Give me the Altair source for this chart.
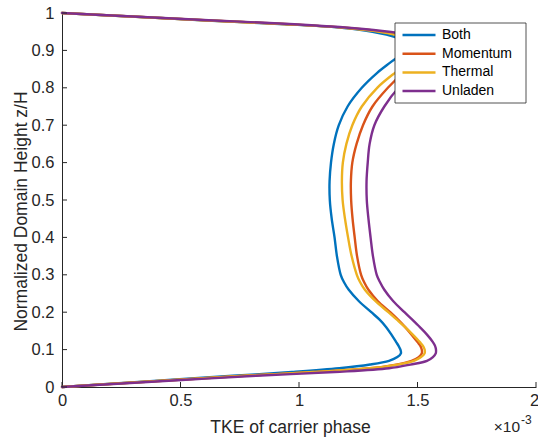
import altair as alt
import pandas as pd

# Normalized height levels (shared by all series)
z_levels = [0, 0.01, 0.02, 0.03, 0.04, 0.05, 0.06, 0.07, 0.08, 0.09, 0.10, 0.11, 0.12,
            0.14, 0.16, 0.18, 0.20, 0.23, 0.26, 0.28, 0.30, 0.35, 0.40, 0.45, 0.50, 0.55,
            0.60, 0.65, 0.70, 0.75, 0.80, 0.84, 0.87, 0.90, 0.92, 0.935, 0.95, 0.96,
            0.97, 0.98, 0.99, 1.0]

# TKE of carrier phase (x 1e-3) at each level
tke_both = [0, 0.24, 0.48, 0.72, 0.97, 1.17, 1.30, 1.38, 1.415, 1.43, 1.428, 1.42, 1.41,
            1.39, 1.368, 1.34, 1.305, 1.252, 1.21, 1.19, 1.176, 1.16, 1.150, 1.138, 1.130, 1.129,
            1.135, 1.147, 1.168, 1.205, 1.265, 1.33, 1.39, 1.45, 1.46, 1.41, 1.31, 1.19,
            0.94, 0.61, 0.31, 0]
tke_momentum = [0, 0.25, 0.51, 0.77, 1.06, 1.30, 1.41, 1.475, 1.505, 1.518, 1.518, 1.512, 1.50,
                1.475, 1.448, 1.418, 1.385, 1.332, 1.293, 1.275, 1.262, 1.245, 1.235, 1.226, 1.220, 1.219,
                1.225, 1.243, 1.27, 1.31, 1.375, 1.44, 1.50, 1.54, 1.53, 1.47, 1.35, 1.21,
                0.96, 0.625, 0.315, 0]
tke_thermal = [0, 0.25, 0.51, 0.77, 1.06, 1.30, 1.415, 1.485, 1.515, 1.53, 1.53, 1.523, 1.51,
               1.48, 1.448, 1.413, 1.377, 1.322, 1.278, 1.258, 1.244, 1.222, 1.207, 1.194, 1.184, 1.181,
               1.185, 1.20, 1.225, 1.265, 1.33, 1.405, 1.47, 1.52, 1.51, 1.45, 1.34, 1.20,
               0.95, 0.62, 0.31, 0]
tke_unladen = [0, 0.27, 0.54, 0.82, 1.15, 1.38, 1.47, 1.54, 1.565, 1.577, 1.578, 1.574, 1.565,
               1.54, 1.51, 1.478, 1.445, 1.397, 1.36, 1.342, 1.328, 1.312, 1.302, 1.293, 1.286, 1.285,
               1.29, 1.298, 1.318, 1.36, 1.42, 1.49, 1.55, 1.59, 1.58, 1.52, 1.38, 1.22,
               0.98, 0.64, 0.32, 0]

series_names = ["Both", "Momentum", "Thermal", "Unladen"]
series_colors = ["#0072BD", "#D95319", "#EDB120", "#7E2F8E"]

x_ticks = [0, 0.5, 1, 1.5, 2]
y_ticks = [0, 0.1, 0.2, 0.3, 0.4, 0.5, 0.6, 0.7, 0.8, 0.9, 1.0]

x_title = "TKE of carrier phase"
y_title = "Normalized Domain Height z/H"
exp_base = "\u00d710"
exp_power = "-3"

rows = []
for name, vals in zip(series_names, [tke_both, tke_momentum, tke_thermal, tke_unladen]):
    for i, (xv, zv) in enumerate(zip(vals, z_levels)):
        rows.append({"series": name, "tke": xv, "z": zv, "i": i})
df = pd.DataFrame(rows)

W, H = 474, 374
FONT = "Liberation Sans"
AX = "#262626"
LBL = 16.5
TTL = 17.5

xscale = alt.Scale(domain=[0, 2], nice=False, zero=False)
yscale = alt.Scale(domain=[0, 1], nice=False, zero=False)
xaxis = alt.Axis(values=x_ticks, format="~g", title=x_title, ticks=False, grid=False,
                 labelFont=FONT, labelFontSize=LBL, labelColor=AX,
                 titleFont=FONT, titleFontSize=TTL, titleColor=AX, titleFontWeight="normal",
                 labelOffset={"condition": {"test": "datum.value === 2", "value": -2}, "value": 0},
                 labelPadding=5, titleX=228, titleY=45, titleBaseline="alphabetic", labelFlush=False)
yaxis = alt.Axis(values=y_ticks, format="~g", title=y_title, ticks=False, grid=False,
                 labelFont=FONT, labelFontSize=LBL, labelColor=AX,
                 titleFont=FONT, titleFontSize=TTL, titleColor=AX, titleFontWeight="normal",
                 labelPadding=8, titleX=-36, titleY=198, titleAngle=270,
                 titleBaseline="alphabetic", labelFlush=False)

lines = alt.Chart(df).mark_line(strokeWidth=2.4, interpolate="catmull-rom", strokeCap="round").encode(
    x=alt.X("tke:Q", scale=xscale, axis=xaxis),
    y=alt.Y("z:Q", scale=yscale, axis=yaxis),
    color=alt.Color("series:N", scale=alt.Scale(domain=series_names, range=series_colors),
                    legend=alt.Legend(title=None, orient="none", legendX=339, legendY=14,
                                      symbolType="stroke", symbolSize=1089, symbolStrokeWidth=2.5,
                                      clipHeight=16, rowPadding=2.7, labelOffset=5, padding=0,
                                      labelFont=FONT, labelFontSize=14, labelColor="#000000",
                                      zindex=2)),
    order=alt.Order("i:Q"),
)

legend_box = alt.Chart(pd.DataFrame({"k": [0]})).mark_rect(
    fill="white", stroke=AX, strokeWidth=0.8
).encode(x=alt.value(333), x2=alt.value(464), y=alt.value(10), y2=alt.value(90))

xtick_layer = alt.Chart(pd.DataFrame({"v": x_ticks})).mark_rule(color=AX, strokeWidth=1).encode(
    x=alt.X("v:Q", scale=xscale, axis=xaxis), y=alt.value(H), y2=alt.value(H - 5))
ytick_layer = alt.Chart(pd.DataFrame({"v": y_ticks})).mark_rule(color=AX, strokeWidth=1).encode(
    y=alt.Y("v:Q", scale=yscale, axis=yaxis), x=alt.value(0), x2=alt.value(5))

exp1 = alt.Chart(pd.DataFrame({"t": [exp_base]})).mark_text(
    font=FONT, fontSize=15.5, color=AX, align="right", baseline="alphabetic"
).encode(text="t:N", x=alt.value(458), y=alt.value(419))
exp2 = alt.Chart(pd.DataFrame({"t": [exp_power]})).mark_text(
    font=FONT, fontSize=12, color=AX, align="left", baseline="alphabetic"
).encode(text="t:N", x=alt.value(459), y=alt.value(411))

chart = alt.layer(lines, legend_box, xtick_layer, ytick_layer, exp1, exp2).properties(
    width=W, height=H,
    background="white",
    autosize=alt.AutoSizeParams(type="none"),
    padding={"left": 62, "top": 13, "right": 2, "bottom": 52},
).configure_view(stroke=None).configure_axis(
    domainColor=AX, domainWidth=1,
)

chart.save("out.html", embed_options={"renderer": "svg", "actions": False})
